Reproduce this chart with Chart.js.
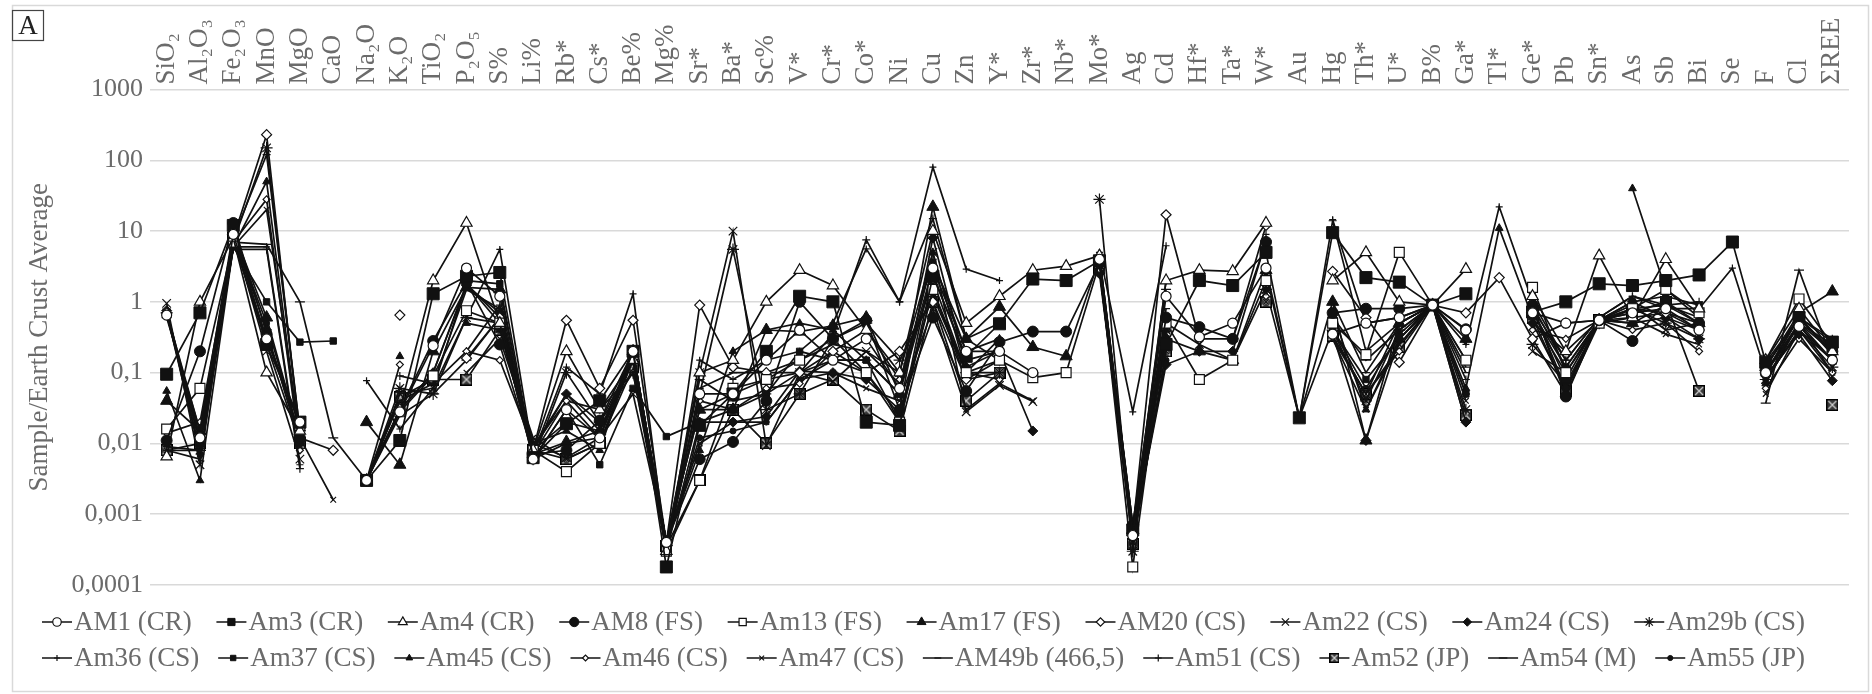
<!DOCTYPE html>
<html>
<head>
<meta charset="utf-8">
<script src="https://cdn.jsdelivr.net/npm/chart.js@4.4.1/dist/chart.umd.min.js"></script>
<style>
html,body{margin:0;padding:0;background:#fff;}
#wrap{position:relative;width:1872px;height:694px;}
</style>
</head>
<body>
<div id="wrap"><canvas id="c" width="1872" height="694"></canvas></div>
<script>
const _ = null;

const categories = ['SiO₂','Al₂O₃','Fe₂O₃','MnO','MgO','CaO','Na₂O','K₂O','TiO₂','P₂O₅',
  'S%','Li%','Rb*','Cs*','Be%','Mg%','Sr*','Ba*','Sc%','V*',
  'Cr*','Co*','Ni','Cu','Zn','Y*','Zr*','Nb*','Mo*','Ag',
  'Cd','Hf*','Ta*','W*','Au','Hg','Th*','U*','B%','Ga*',
  'Tl*','Ge*','Pb','Sn*','As','Sb','Bi','Se','F','Cl',
  'ΣREE'];

const yTickValues = [1000, 100, 10, 1, 0.1, 0.01, 0.001, 0.0001];
const yTickLabels = ['1000', '100', '10', '1', '0,1', '0,01', '0,001', '0,0001'];

const seriesNames = ['AM1 (CR)','Am3 (CR)','Am4 (CR)','AM8 (FS)','Am13 (FS)','Am17 (FS)','AM20 (CS)','Am22 (CS)','Am24 (CS)','Am29b (CS)',
  'Am36 (CS)','Am37 (CS)','Am45 (CS)','Am46 (CS)','Am47 (CS)','AM49b (466,5)','Am51 (CS)','Am52 (JP)','Am54 (M)','Am55 (JP)'];

const AM1 = [0.65,0.012,9,0.3,0.02,_,0.003,0.028,0.24,3.0,
  1.2,0.006,0.03,0.012,0.2,0.0004,0.05,0.05,0.15,0.4,
  0.15,0.3,0.06,3.0,0.2,0.2,0.1,_,4.0,0.0005,
  1.2,0.32,0.5,3.0,_,0.35,0.5,0.6,0.9,0.4,
  _,0.7,0.5,0.55,0.7,0.8,0.4,_,0.1,0.45,
  0.15];
const Am3 = [0.095,0.7,12,0.25,0.02,_,0.003,0.011,1.3,2.3,
  2.6,0.0063,0.019,0.04,0.2,0.00018,0.018,0.05,0.2,1.2,
  1.0,0.02,0.018,2.3,0.17,0.49,2.1,2.0,3.8,0.0006,
  0.25,2.0,1.7,5.0,0.023,9.5,2.2,1.9,0.9,1.3,
  _,0.72,1.0,1.8,1.7,2.0,2.4,7.0,0.14,0.6,
  0.27];
const Am4 = [0.0065,1.0,8,0.1,0.015,_,0.003,0.03,2.0,13,
  0.5,0.008,0.2,0.03,0.15,0.0003,0.1,0.15,1.0,2.8,
  1.7,0.4,0.1,10,0.5,1.2,2.8,3.2,4.5,0.0006,
  2.0,2.8,2.7,13,_,2.0,5.0,1.0,0.9,2.9,
  _,1.2,0.2,4.5,0.6,4.0,0.8,_,0.15,0.8,
  0.2];
const AM8 = [0.011,0.2,13,0.35,0.012,_,0.003,0.03,0.28,1.9,
  0.25,0.007,0.008,0.021,0.2,0.0004,0.006,0.0105,0.04,1.0,
  0.3,0.55,0.03,0.6,0.055,0.27,0.38,0.38,3.5,0.0007,
  0.6,0.44,0.3,7.0,_,0.7,0.8,0.8,0.9,0.41,
  _,0.9,0.046,0.55,0.28,1.0,0.5,_,0.1,0.5,
  0.2];
const Am13 = [0.016,0.06,7,0.3,0.018,_,0.003,0.028,0.09,0.75,
  0.5,0.008,0.004,0.01,0.18,0.0003,0.003,0.06,0.08,0.15,
  0.3,0.1,0.02,1.5,0.1,0.15,0.085,0.1,3.5,0.00018,
  0.5,0.08,0.15,2.0,_,0.5,0.18,5.0,0.9,0.15,
  _,1.6,0.1,0.5,0.8,1.5,0.7,_,0.15,1.1,
  0.25];
const Am17 = [0.04,0.015,10,0.6,0.012,_,0.02,0.005,0.2,1.6,
  1.5,0.007,0.0105,0.015,0.2,0.0004,0.03,0.03,0.4,0.38,
  0.46,0.6,0.05,22,0.3,0.85,0.23,0.17,4.0,0.0006,
  0.3,0.2,0.15,2.8,_,1.0,0.011,0.5,0.9,0.3,
  _,0.8,0.08,0.55,0.5,0.9,0.5,_,0.12,0.7,
  1.4];
const AM20 = [0.7,0.015,8,230,0.012,0.008,_,0.65,_,0.16,
  0.6,0.008,0.55,0.06,0.55,0.0004,0.9,0.12,0.1,0.1,
  0.2,0.1,0.2,1.0,0.08,0.15,_,_,3.0,0.0006,
  17,0.3,0.3,12,_,2.7,0.6,0.14,0.9,0.7,
  2.2,0.3,0.5,0.55,0.6,0.7,0.4,_,0.1,0.5,
  0.15];
const Am22 = [0.95,0.005,8.5,0.2,0.006,_,0.003,0.05,0.06,1.8,
  0.6,0.01,0.0063,0.012,0.05,0.0004,0.1,10,0.0093,0.1,
  0.075,0.2,0.1,5.0,0.028,0.066,0.039,_,3.0,0.0005,
  0.5,0.25,0.15,1.5,_,0.3,0.05,0.5,0.9,0.15,
  _,0.2,0.1,0.55,0.9,0.4,0.5,_,0.08,0.4,
  0.15];
const Am24 = [0.75,0.01,9,0.4,0.01,_,0.003,0.03,0.1,1.7,
  0.7,0.009,0.05,0.02,0.15,0.0003,0.02,0.02,0.024,0.105,
  0.1,0.08,0.03,8,0.12,0.2,0.015,_,2.5,0.0005,
  0.13,0.2,0.2,7.3,_,0.35,0.011,0.3,0.9,0.02,
  _,0.5,0.06,0.55,1.0,0.6,0.3,_,0.09,0.35,
  0.077];
const Am29b = [0.7,0.008,7,150,0.015,_,0.003,0.06,0.05,0.6,
  0.5,0.006,0.1,0.02,0.1,0.0004,0.05,5.5,0.03,0.05,
  0.3,0.5,0.15,1.2,0.1,0.1,_,_,28,0.0003,
  0.4,_,_,1.5,_,0.4,0.04,0.4,0.9,0.03,
  _,0.25,0.07,0.5,0.8,0.5,0.3,_,0.08,0.4,
  0.12];
const Am36 = [0.008,0.008,6,6,0.005,_,0.077,0.016,0.06,0.6,
  5.5,0.007,0.12,0.05,1.3,0.0003,0.15,0.08,0.15,0.2,
  0.5,5.6,1.0,80,2.9,2.0,_,_,5.0,0.028,
  6.2,_,_,9.0,_,14.5,0.5,0.6,0.9,0.25,
  22,1.0,0.15,0.6,1.2,0.8,0.8,3.0,0.1,0.6,
  0.2];
const Am37 = [0.7,0.01,6,1.0,0.27,0.28,_,_,_,2.0,
  1.8,0.006,0.03,0.005,0.06,0.0125,0.02,0.03,0.05,0.2,
  0.15,0.15,0.02,3.5,0.3,0.15,_,_,3.0,0.0006,
  0.3,_,_,1.9,_,0.4,0.08,0.3,0.9,0.05,
  _,0.9,0.12,0.55,1.0,1.2,0.9,_,0.1,0.6,
  0.18];
const Am45 = [0.055,0.003,6,50,0.01,_,_,0.17,_,0.5,
  0.4,0.01,0.015,0.008,0.2,0.0004,0.008,0.2,0.4,0.5,
  0.4,0.15,0.05,5.0,0.1,0.3,_,_,4.5,0.0007,
  0.4,_,_,2.2,_,0.7,0.03,0.3,0.9,0.06,
  11,0.6,0.1,_,40,1.5,0.6,_,0.07,0.5,
  0.25];
const Am46 = [0.014,0.02,7,28,0.008,_,0.003,0.13,_,0.2,
  0.15,0.009,0.04,0.03,0.1,0.0003,0.04,0.03,0.06,0.07,
  0.2,0.4,0.08,2.0,0.1,0.08,_,_,3.5,0.0005,
  2.0,_,_,1.2,_,0.33,0.05,0.2,0.9,0.05,
  _,0.4,0.3,0.55,0.4,0.5,0.2,_,0.06,0.3,
  0.1];
const Am47 = [0.008,0.006,6,20,0.012,0.0016,_,0.06,_,0.1,
  0.3,0.012,0.006,0.01,0.15,0.0004,0.01,0.02,0.02,0.08,
  0.1,0.06,0.04,0.8,0.03,0.07,0.04,_,3.0,0.0004,
  0.2,_,_,1.0,_,0.3,0.03,0.25,0.9,0.04,
  _,0.3,0.05,0.5,0.6,0.35,0.25,_,0.05,0.4,
  0.1];
const AM49b = [0.009,0.008,8,120,0.015,_,0.003,0.04,0.07,1.5,
  0.8,0.008,0.02,0.015,0.15,0.0003,0.06,0.1,0.1,0.15,
  0.25,0.2,0.07,4.0,0.2,0.3,_,_,3.8,0.0005,
  0.8,_,_,3.0,0.023,1.0,0.1,0.5,0.9,0.1,
  _,0.7,0.12,0.55,0.8,0.7,0.5,_,0.12,0.6,
  0.2];
const Am51 = [0.75,0.012,5.5,5.5,0.0044,_,_,0.09,0.07,0.2,
  0.9,0.007,0.04,0.012,0.2,0.0004,0.03,0.05,0.08,0.1,
  0.35,7.5,1.0,15,0.3,0.5,_,_,4.5,0.0006,
  0.6,_,_,2.5,0.023,14,0.2,0.5,0.9,0.08,
  _,0.8,0.15,0.6,1.2,0.9,1.0,_,0.1,0.6,
  0.3];
const Am52 = [0.008,0.01,8,0.25,0.01,_,0.003,0.045,0.08,0.08,
  0.4,0.008,0.006,0.01,0.12,0.00035,0.003,0.03,0.01,0.05,
  0.08,0.03,0.015,1.0,0.04,0.1,_,_,3.0,0.00038,
  0.2,_,_,1.0,_,0.33,0.05,0.23,0.9,0.025,
  _,0.6,0.055,0.55,0.7,1.0,0.055,_,_,_,
  0.035];
const Am54 = [0.6,0.015,7,6.5,1.0,0.012,0.003,0.025,0.05,0.15,
  0.6,0.008,0.05,0.015,0.15,0.0004,0.08,0.04,0.05,0.1,
  0.15,0.15,0.05,2.5,0.15,0.2,_,_,4.0,0.0007,
  1.5,_,_,2.0,_,0.6,0.15,0.4,0.9,0.12,
  _,0.5,0.2,0.55,0.5,0.6,0.4,_,0.037,2.8,
  0.15];
const Am55 = [0.7,0.007,9,0.5,0.012,_,0.003,0.03,0.1,1.8,
  0.5,0.006,0.01,0.012,0.18,0.0004,0.012,0.015,0.02,0.08,
  0.15,0.1,0.025,1.5,0.08,0.1,_,_,3.5,0.0005,
  0.15,_,_,1.5,0.023,0.4,0.06,0.35,0.9,0.02,
  _,0.8,0.06,0.55,0.8,0.9,0.6,_,0.08,0.5,
  0.1];

const seriesValues = [AM1, Am3, Am4, AM8, Am13, Am17, AM20, Am22, Am24, Am29b,
  Am36, Am37, Am45, Am46, Am47, AM49b, Am51, Am52, Am54, Am55];

// marker for Am52: dark square with an X
function makeBoxX(size){
  const c = document.createElement('canvas');
  c.width = size; c.height = size;
  const g = c.getContext('2d');
  g.fillStyle = '#3a3a3a'; g.fillRect(0,0,size,size);
  g.strokeStyle = '#000'; g.lineWidth = 1.2; g.strokeRect(0.6,0.6,size-1.2,size-1.2);
  g.strokeStyle = '#cfcfcf'; g.lineWidth = 1.2;
  g.beginPath(); g.moveTo(2,2); g.lineTo(size-2,size-2); g.moveTo(size-2,2); g.lineTo(2,size-2); g.stroke();
  return c;
}
const boxX = makeBoxX(12);
const boxXsmall = makeBoxX(10);

// style per series: [pointStyle, radius, filled]
const markerStyles = [
  ['circle',5,false], ['rect',8.5,true], ['triangle',6.5,false], ['circle',5.5,true], ['rect',7,false],
  ['triangle',7,true], ['rectRot',5,false], ['crossRot',6,false], ['rectRot',5,true], ['star',6,false],
  ['cross',3.5,false], ['rect',4.5,true], ['triangle',4.5,true], ['rectRot',3.5,false], ['crossRot',4,false],
  ['line',4,false], ['cross',4,false], [boxX,6,true], ['line',5,false], ['circle',3,true]
];

const datasets = seriesNames.map((name, i) => {
  const [ps, r, filled] = markerStyles[i];
  return {
    label: name,
    data: seriesValues[i],
    borderColor: '#111',
    backgroundColor: '#111',
    borderWidth: 1.7,
    tension: 0,
    spanGaps: false,
    pointStyle: ps,
    pointRadius: r,
    pointHoverRadius: r,
    pointBackgroundColor: filled ? '#111' : '#ffffff',
    pointBorderColor: '#111',
    pointBorderWidth: filled ? 1 : 1.2
  };
});

const FONT = '"Liberation Serif", "Times New Roman", serif';
const TXT = '#6b6b6b';

function drawMarker(ctx, style, r, x, y){
  if (Chart.helpers && Chart.helpers.drawPoint) {
    Chart.helpers.drawPoint(ctx, {pointStyle: style, radius: r, rotation: 0, borderWidth: ctx.lineWidth}, x, y);
  }
}

const framePlugin = {
  id: 'framePlugin',
  beforeDraw(chart){
    const ctx = chart.ctx;
    ctx.save();
    ctx.fillStyle = '#fff';
    ctx.fillRect(0,0,chart.width,chart.height);
    ctx.strokeStyle = '#d9d9d9';
    ctx.lineWidth = 1.5;
    ctx.strokeRect(12.5, 5.5, 1856, 686);
    ctx.restore();
  },
  afterDraw(chart){
    const ctx = chart.ctx;
    ctx.save();
    // panel letter box
    ctx.strokeStyle = '#444';
    ctx.lineWidth = 1.2;
    ctx.strokeRect(12.5, 10.5, 31, 30);
    ctx.fillStyle = '#222';
    ctx.font = '27px ' + FONT;
    ctx.textAlign = 'center';
    ctx.textBaseline = 'middle';
    ctx.fillText('A', 28, 26.5);
    // legend: two rows, items flowed so each row spans the same width
    ctx.textAlign = 'left';
    ctx.textBaseline = 'middle';
    ctx.font = '27px ' + FONT;
    const ICON = 32, START = 42, END = 1805;
    const dss = chart.data.datasets;
    [[0,10,622],[10,20,658]].forEach(([a,b,y]) => {
      let total = 0;
      for (let i = a; i < b; i++) total += ICON + ctx.measureText(dss[i].label).width;
      const gap = (END - START - total) / (b - a - 1);
      let x = START;
      for (let i = a; i < b; i++) {
        ctx.strokeStyle = '#111';
        ctx.lineWidth = 1.5;
        ctx.beginPath(); ctx.moveTo(x, y); ctx.lineTo(x + 30, y); ctx.stroke();
        const [ps, r, filled] = markerStyles[i];
        ctx.fillStyle = filled ? '#111' : '#fff';
        ctx.strokeStyle = '#111';
        ctx.lineWidth = filled ? 1 : 1.2;
        const style = (ps === boxX) ? boxXsmall : ps;
        drawMarker(ctx, style, Math.min(r, 6) * 0.85, x + 15, y);
        ctx.fillStyle = TXT;
        ctx.fillText(dss[i].label, x + ICON, y + 1);
        x += ICON + ctx.measureText(dss[i].label).width + gap;
      }
    });
    ctx.restore();
  }
};

new Chart(document.getElementById('c'), {
  type: 'line',
  data: { labels: categories, datasets: datasets },
  plugins: [framePlugin],
  options: {
    responsive: false,
    animation: false,
    devicePixelRatio: 1,
    layout: { padding: { left: 0, right: 23, top: 0, bottom: 109 } },
    plugins: { legend: { display: false }, tooltip: { enabled: false } },
    elements: { line: { tension: 0 } },
    scales: {
      x: {
        type: 'category',
        position: 'top',
        offset: true,
        grid: { display: false, drawTicks: false },
        border: { display: false },
        ticks: {
          autoSkip: false,
          minRotation: 90,
          maxRotation: 90,
          padding: 5,
          labelOffset: 32.4,
          color: TXT,
          font: { family: FONT, size: 27 }
        },
        afterFit(scale){ scale.height = 89.5; }
      },
      y: {
        type: 'logarithmic',
        min: 0.0001,
        max: 1000,
        grid: { color: '#d9d9d9', lineWidth: 1.5, drawTicks: false },
        border: { display: false },
        afterBuildTicks(scale){ scale.ticks = yTickValues.map(v => ({ value: v, major: true })); },
        ticks: {
          padding: 7,
          color: TXT,
          font: { family: FONT, size: 26 },
          callback(value){ const k = yTickValues.indexOf(value); return k >= 0 ? yTickLabels[k] : ''; }
        },
        title: {
          display: true,
          text: 'Sample/Earth Crust Average',
          color: TXT,
          font: { family: FONT, size: 27 },
          padding: { top: 24, bottom: 0 }
        },
        afterFit(scale){ scale.width = 150; }
      }
    }
  }
});
</script>
</body>
</html>
